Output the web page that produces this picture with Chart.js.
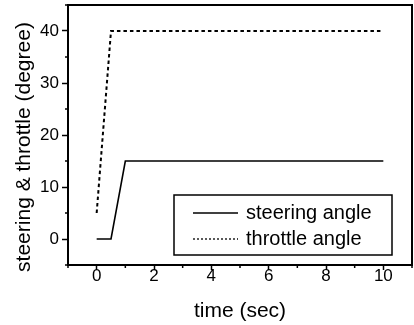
<!DOCTYPE html>
<html>
<head>
<meta charset="utf-8">
<title>steering & throttle</title>
<script src="https://cdn.jsdelivr.net/npm/chart.js@4"></script>
<style>
  html, body { margin: 0; padding: 0; background: #fff; }
  #wrap { width: 414px; height: 325px; }
</style>
</head>
<body>
<div id="wrap"><canvas id="chart" width="414" height="325"></canvas></div>
<script>
// values
const steerTime = [0, 0.5, 1, 10];
const steerAngle = [0, 0, 15, 15];
const throttleTime = [0, 0.5, 10];
const throttleAngle = [5, 40, 40];

const xTickLabels = [0, 2, 4, 6, 8, 10];
const yTickLabels = [0, 10, 20, 30, 40];

const seriesNames = ['steering angle', 'throttle angle'];
const xTitle = 'time (sec)';
const yTitle = 'steering & throttle (degree)';

const FONT = '"Liberation Sans", Arial, sans-serif';

const toPoints = function (xs, ys) {
  return xs.map((x, i) => ({ x: x, y: ys[i] }));
};

// frame, minor ticks, y title and the legend box
const extras = {
  id: 'extras',
  afterDraw(chart) {
    const ctx = chart.ctx;
    const a = chart.chartArea;
    const xs = chart.scales.x;
    const ys = chart.scales.y;
    ctx.save();
    ctx.strokeStyle = '#000';
    ctx.lineWidth = 2;
    ctx.strokeRect(a.left, a.top, a.right - a.left, a.bottom - a.top);

    // minor ticks
    ctx.lineWidth = 1.5;
    ctx.beginPath();
    for (let v = -1; v <= 11; v += 2) {
      const px = xs.getPixelForValue(v);
      ctx.moveTo(px, a.bottom);
      ctx.lineTo(px, a.bottom + 3);
    }
    for (let v = -5; v <= 45; v += 10) {
      const py = ys.getPixelForValue(v);
      ctx.moveTo(a.left, py);
      ctx.lineTo(a.left - 3, py);
    }
    ctx.stroke();

    // y axis title
    ctx.fillStyle = '#000';
    ctx.font = '21px ' + FONT;
    ctx.textAlign = 'center';
    ctx.textBaseline = 'middle';
    ctx.translate(24, 147);
    ctx.rotate(-Math.PI / 2);
    ctx.fillText(yTitle, 0, 0);
    ctx.restore();

    // legend
    ctx.save();
    const bx = a.left + 106, by = a.top + 190, bw = 218, bh = 60;
    ctx.strokeStyle = '#000';
    ctx.lineWidth = 1.5;
    ctx.strokeRect(bx, by, bw, bh);
    ctx.font = '20px ' + FONT;
    ctx.fillStyle = '#000';
    ctx.textBaseline = 'alphabetic';
    chart.data.datasets.forEach((ds, i) => {
      const ly = by + 18 + i * 26;
      ctx.lineWidth = 1.3;
      ctx.setLineDash(i === 1 ? [2, 2] : []);
      ctx.beginPath();
      ctx.moveTo(bx + 19, ly);
      ctx.lineTo(bx + 64, ly);
      ctx.stroke();
      ctx.setLineDash([]);
      ctx.fillText(ds.label, bx + 72, ly + 6);
    });
    ctx.restore();
  }
};

const data = {
  datasets: [
    {
      label: seriesNames[0],
      data: toPoints(steerTime, steerAngle),
      borderColor: '#000',
      borderWidth: 1.6,
      pointRadius: 0,
      showLine: true,
      tension: 0
    },
    {
      label: seriesNames[1],
      data: toPoints(throttleTime, throttleAngle),
      borderColor: '#000',
      borderWidth: 2,
      borderDash: [3.5, 3],
      pointRadius: 0,
      showLine: true,
      tension: 0
    }
  ]
};

const config = {
  type: 'scatter',
  data: data,
  options: {
    responsive: false,
    animation: false,
    events: [],
    layout: { padding: { top: 5, right: 2, bottom: 0, left: 0 } },
    plugins: {
      legend: { display: false },
      tooltip: { enabled: false }
    },
    scales: {
      x: {
        type: 'linear',
        min: -1,
        max: 11,
        afterFit(scale) {
          scale.height = 60;
          scale.paddingLeft = 0;
          scale.paddingRight = 0;
        },
        border: { display: false },
        grid: {
          drawOnChartArea: false,
          tickLength: 5,
          tickWidth: 1.5,
          tickColor: (c) => xTickLabels.includes(c.tick && c.tick.value) ? '#000' : 'rgba(0,0,0,0)'
        },
        ticks: {
          stepSize: 1,
          autoSkip: false,
          maxRotation: 0,
          padding: 0,
          color: '#000',
          font: { family: FONT, size: 17, lineHeight: 0.75 },
          callback: (v) => xTickLabels.includes(v) ? String(v) : ''
        },
        title: {
          display: true,
          text: xTitle,
          color: '#000',
          font: { family: FONT, size: 21, lineHeight: 1.2 },
          padding: { top: 0, bottom: 1 }
        }
      },
      y: {
        type: 'linear',
        min: -5,
        max: 45,
        afterFit(scale) {
          scale.width = 68;
          scale.paddingTop = 0;
          scale.paddingBottom = 0;
        },
        border: { display: false },
        grid: {
          drawOnChartArea: false,
          tickLength: 6,
          tickWidth: 1.5,
          tickColor: (c) => yTickLabels.includes(c.tick && c.tick.value) ? '#000' : 'rgba(0,0,0,0)'
        },
        ticks: {
          stepSize: 5,
          autoSkip: false,
          padding: 3,
          color: '#000',
          font: { family: FONT, size: 17 },
          callback: (v) => yTickLabels.includes(v) ? String(v) : ''
        }
      }
    }
  },
  plugins: [extras]
};

const myChart = new Chart(document.getElementById('chart'), config);
</script>
</body>
</html>
